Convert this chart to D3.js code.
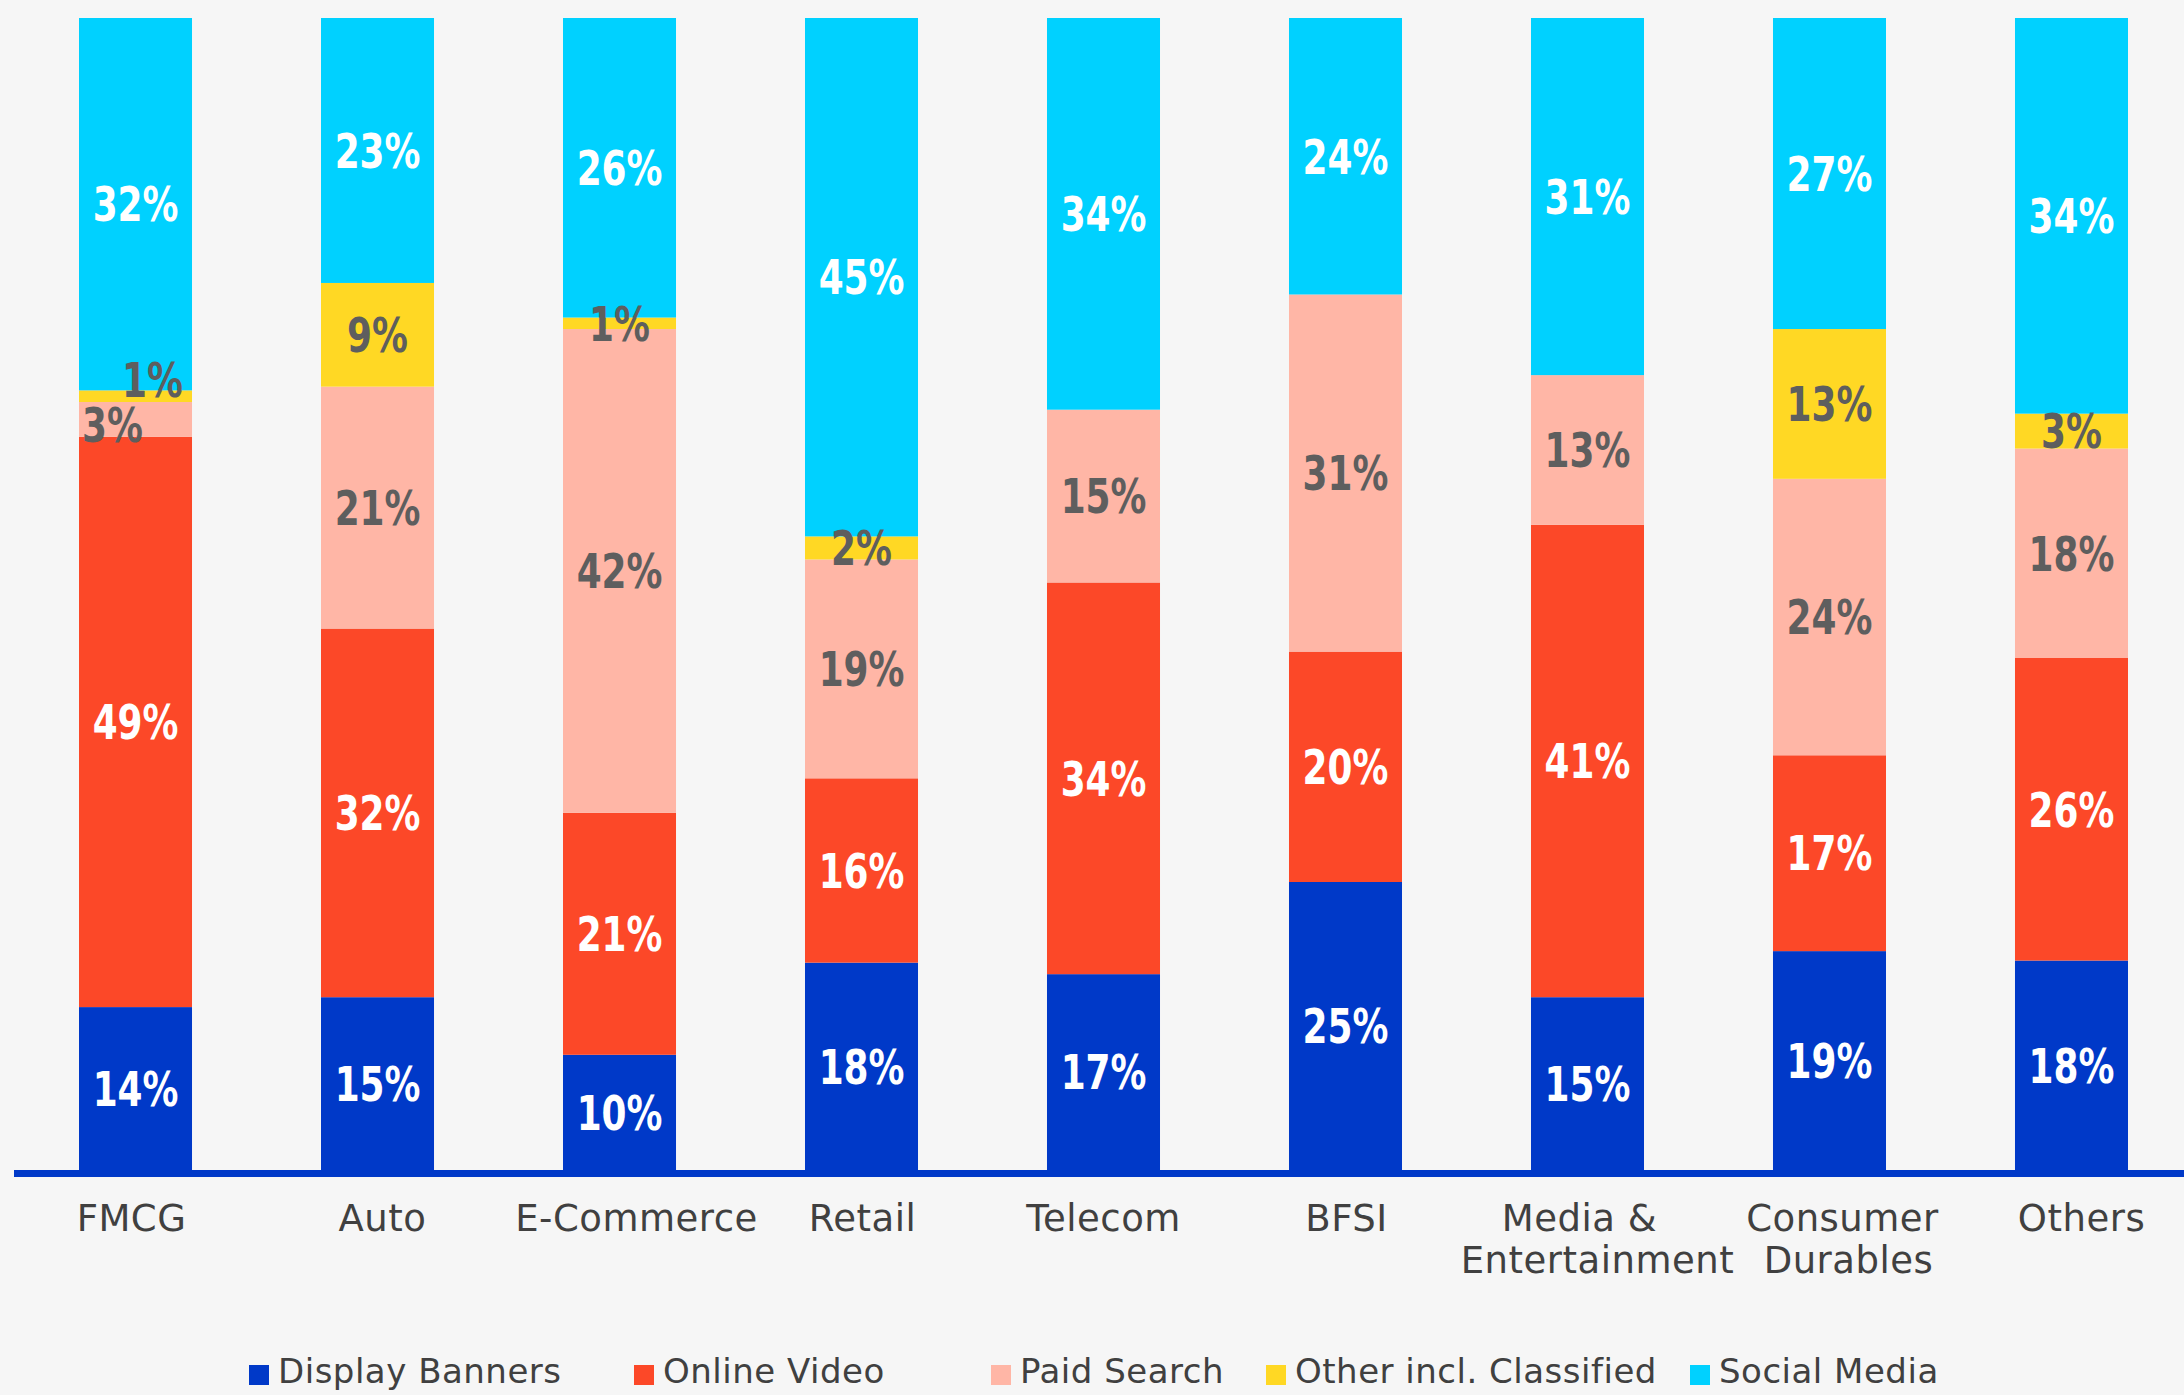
<!DOCTYPE html>
<html>
<head>
<meta charset="utf-8">
<script src="https://cdn.jsdelivr.net/npm/d3@7/dist/d3.min.js"></script>
<style>
  html, body { margin: 0; padding: 0; background: #F6F6F6; }
  svg { display: block; }
</style>
</head>
<body>
<svg id="chart" width="2184" height="1395"></svg>
<script>
// ---------------- DATA ----------------
const categories = ["FMCG", "Auto", "E-Commerce", "Retail", "Telecom", "BFSI", "Media & Entertainment", "Consumer Durables", "Others"];
const categoryLines = [["FMCG"], ["Auto"], ["E-Commerce"], ["Retail"], ["Telecom"], ["BFSI"], ["Media &", "Entertainment"], ["Consumer", "Durables"], ["Others"]];
const seriesNames = ["Display Banners", "Online Video", "Paid Search", "Other incl. Classified", "Social Media"];
const displayBanners = [14, 15, 10, 18, 17, 25, 15, 19, 18];
const onlineVideo    = [49, 32, 21, 16, 34, 20, 41, 17, 26];
const paidSearch     = [3, 21, 42, 19, 15, 31, 13, 24, 18];
const otherClassified= [1, 9, 1, 2, 0, 0, 0, 13, 3];
const socialMedia    = [32, 23, 26, 45, 34, 24, 31, 27, 34];

// ---------------- STYLE / LAYOUT ----------------
const colors = ["#0039C8", "#FC4828", "#FFB6A6", "#FFD824", "#00D1FF"];
const labelColors = ["#FFFFFF", "#FFFFFF", "#5E5E5E", "#5E5E5E", "#FFFFFF"];
const legendX = [249, 634, 991, 1266, 1690];
// per-line horizontal offsets of category labels (as placed in the reference)
const labelDx = [[-4], [5], [17], [1], [0], [1], [-8, 10], [13, 19], [10]];
// label nudges for crowded small segments: key "category|series"
const nudges = { "FMCG|Other incl. Classified": [17, -16], "FMCG|Paid Search": [-23, 5] };

const seriesArrays = [displayBanners, onlineVideo, paidSearch, otherClassified, socialMedia];
const table = categories.map((c, i) => {
  const row = { category: c };
  seriesNames.forEach((s, j) => row[s] = seriesArrays[j][i]);
  return row;
});

const svg = d3.select("#chart");
svg.append("rect").attr("width", 2184).attr("height", 1395).attr("fill", "#F6F6F6");

const x = d3.scaleBand().domain(categories).range([79, 2128]).paddingInner(0.533).paddingOuter(0);
const y = d3.scaleLinear().domain([0, 1]).range([1170, 18]);

const stack = d3.stack().keys(seriesNames).offset(d3.stackOffsetExpand);
const stacked = stack(table);

const g = svg.append("g");
stacked.forEach((layer, j) => {
  g.append("g").attr("fill", colors[j])
    .selectAll("rect").data(layer).join("rect")
    .attr("x", d => x(d.data.category))
    .attr("width", x.bandwidth())
    .attr("y", d => y(d[1]))
    .attr("height", d => y(d[0]) - y(d[1]));
});

// value labels
stacked.forEach((layer, j) => {
  g.append("g")
    .selectAll("text").data(layer.filter(d => d.data[layer.key] > 0)).join("text")
    .attr("transform", d => {
      const n = nudges[d.data.category + "|" + layer.key];
      const cx = x(d.data.category) + x.bandwidth() / 2 + (n ? n[0] : 0);
      const cy = (y(d[0]) + y(d[1])) / 2 + (n ? n[1] : 0);
      return `translate(${cx},${cy}) scale(0.83,1)`;
    })
    .attr("dy", "0.36em")
    .attr("text-anchor", "middle")
    .attr("fill", labelColors[j])
    .style("font-family", "'DejaVu Sans Condensed', 'DejaVu Sans', sans-serif")
    .style("font-weight", "bold")
    .style("font-size", "48px")
    .text(d => d.data[layer.key] + "%");
});

// baseline axis line
svg.append("rect").attr("x", 14).attr("y", 1170).attr("width", 2184 - 14).attr("height", 7).attr("fill", "#0039C8");

// category labels via axis
const axis = d3.axisBottom(x).tickSize(0).tickFormat("");
const axG = svg.append("g").attr("transform", "translate(0,1177)").call(axis);
axG.select(".domain").remove();
axG.selectAll(".tick").each(function(d, i) {
  const t = d3.select(this).append("text")
    .attr("text-anchor", "middle")
    .attr("fill", "#404040")
    .style("font-family", "'DejaVu Sans', sans-serif")
    .style("font-size", "37px")
    .style("letter-spacing", "0.5px");
  categoryLines[i].forEach((line, k) => {
    t.append("tspan").attr("x", labelDx[i][k]).attr("y", 54 + k * 42).text(line);
  });
});

// legend
const lg = svg.append("g");
seriesNames.forEach((s, j) => {
  lg.append("rect").attr("x", legendX[j]).attr("y", 1365).attr("width", 20).attr("height", 20).attr("fill", colors[j]);
  lg.append("text").attr("x", legendX[j] + 29).attr("y", 1383)
    .attr("fill", "#404040")
    .style("font-family", "'DejaVu Sans', sans-serif")
    .style("font-size", "34px")
    .style("letter-spacing", "0.5px")
    .text(s);
});
</script>
</body>
</html>
